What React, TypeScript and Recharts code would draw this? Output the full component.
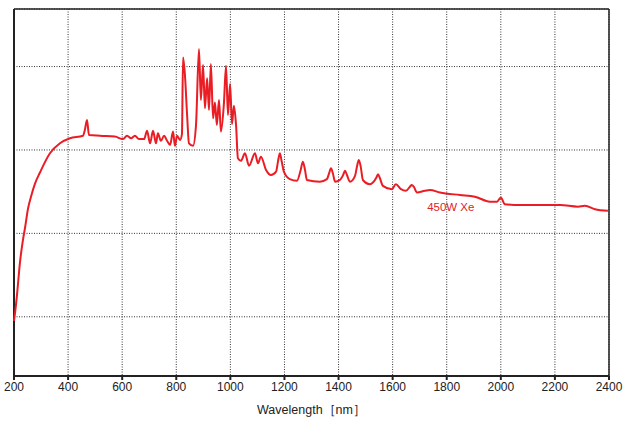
import {
  LineChart,
  Line,
  XAxis,
  YAxis,
  CartesianGrid,
  ReferenceLine,
  ReferenceDot,
} from "recharts";

// wavelength in nm
const wavelengths = [
  200, 204, 211, 222, 233, 241, 252, 262, 278, 296, 333, 370, 407, 455, 462, 470, 477,
  518, 573, 603, 618, 633, 647, 662, 681, 692, 703, 714, 725, 732, 743, 755, 766,
  777, 788, 795, 803, 814, 821, 825, 832, 840, 847, 862, 873, 884, 891, 899, 906,
  914, 921, 928, 936, 943, 950, 958, 965, 976, 984, 991, 999, 1006, 1013, 1021,
  1028, 1039, 1054, 1069, 1091, 1102, 1113, 1132, 1150, 1169, 1176, 1183, 1190,
  1198, 1220, 1246, 1260, 1268, 1276, 1283, 1331, 1357, 1365, 1372, 1379, 1387,
  1405, 1417, 1424, 1431, 1442, 1461, 1468, 1475, 1482, 1490, 1516, 1540, 1546,
  1552, 1564, 1597, 1612, 1631, 1649, 1664, 1671, 1678, 1690, 1719, 1738, 1775,
  1849, 1904, 1960, 1986, 2000, 2015, 2071, 2219, 2285, 2311, 2348, 2396,
];

// relative intensity (arbitrary units, grid lines at 1..4)
const intensity = [
  0.95, 1.05, 1.26, 1.65, 1.92, 2.07, 2.3, 2.43, 2.6, 2.73, 2.96, 3.08, 3.14, 3.17,
  3.24, 3.36, 3.18, 3.17, 3.16, 3.13, 3.17, 3.14, 3.17, 3.13, 3.13, 3.23, 3.08, 3.23,
  3.08, 3.2, 3.11, 3.17, 3.11, 3.06, 3.22, 3.05, 3.17, 3.12, 3.19, 4.11, 3.9, 3.42,
  3.08, 3.05, 3.3, 4.21, 3.6, 4.02, 3.5, 3.86, 3.48, 4.03, 3.38, 3.57, 3.3, 3.6, 3.22,
  3.55, 4.01, 3.42, 3.79, 3.31, 3.53, 3.3, 2.9, 2.87, 2.96, 2.81, 2.96, 2.84, 2.92,
  2.76, 2.7, 2.74, 2.86, 2.96, 2.86, 2.74, 2.65, 2.63, 2.76, 2.86, 2.76, 2.64, 2.62,
  2.65, 2.72, 2.78, 2.72, 2.62, 2.64, 2.7, 2.75, 2.7, 2.62, 2.69, 2.8, 2.88, 2.8, 2.64,
  2.59, 2.67, 2.71, 2.67, 2.57, 2.53, 2.59, 2.53, 2.51, 2.56, 2.58, 2.56, 2.49, 2.51,
  2.52, 2.49, 2.46, 2.44, 2.38, 2.38, 2.43, 2.35, 2.34, 2.34, 2.32, 2.33, 2.29, 2.27,
];

const xTicks = [200, 400, 600, 800, 1000, 1200, 1400, 1600, 1800, 2000, 2200, 2400];
const yTicks = [1, 2, 3, 4];

const data = wavelengths.map((w, i) => ({ w, v: intensity[i] }));

const FONT = "'Liberation Sans', Arial, sans-serif";

export default function App() {
  return (
    <div
      style={{
        position: "absolute",
        left: 0,
        top: 0,
        width: 624,
        height: 423,
        background: "#fff",
        fontFamily: FONT,
      }}
    >
      <LineChart
        width={624}
        height={423}
        data={data}
        margin={{ top: 9, right: 15, bottom: 0, left: 14 }}
      >
        <CartesianGrid stroke="#333" strokeDasharray="1 1.5" strokeWidth={1} />
        <XAxis
          type="number"
          dataKey="w"
          domain={[200, 2400]}
          ticks={xTicks}
          height={47}
          stroke="#222"
          strokeWidth={2}
          tickSize={4}
          tick={{ fontSize: 12, fill: "#222", fontFamily: FONT }}
          label={{
            value: "Wavelength［nm］",
            position: "insideBottom",
            offset: 9,
            fontSize: 12.5,
            fill: "#222",
            fontFamily: FONT,
          }}
        />
        <YAxis type="number" domain={[0.29, 4.69]} ticks={yTicks} hide />
        <ReferenceLine y={4.69} stroke="#222" strokeWidth={1.5} />
        <ReferenceLine x={2400} stroke="#222" strokeWidth={1.5} />
        <ReferenceLine x={200} stroke="#222" strokeWidth={2} />
        <Line
          type="monotone"
          dataKey="v"
          stroke="#ea1c24"
          strokeWidth={2}
          dot={false}
          isAnimationActive={false}
        />
        <ReferenceDot
          x={1815}
          y={2.32}
          r={0}
          fill="none"
          stroke="none"
          label={{
            value: "450W Xe",
            position: "center",
            fill: "#e0202a",
            fontSize: 11.5,
            fontFamily: FONT,
          }}
        />
      </LineChart>
    </div>
  );
}
